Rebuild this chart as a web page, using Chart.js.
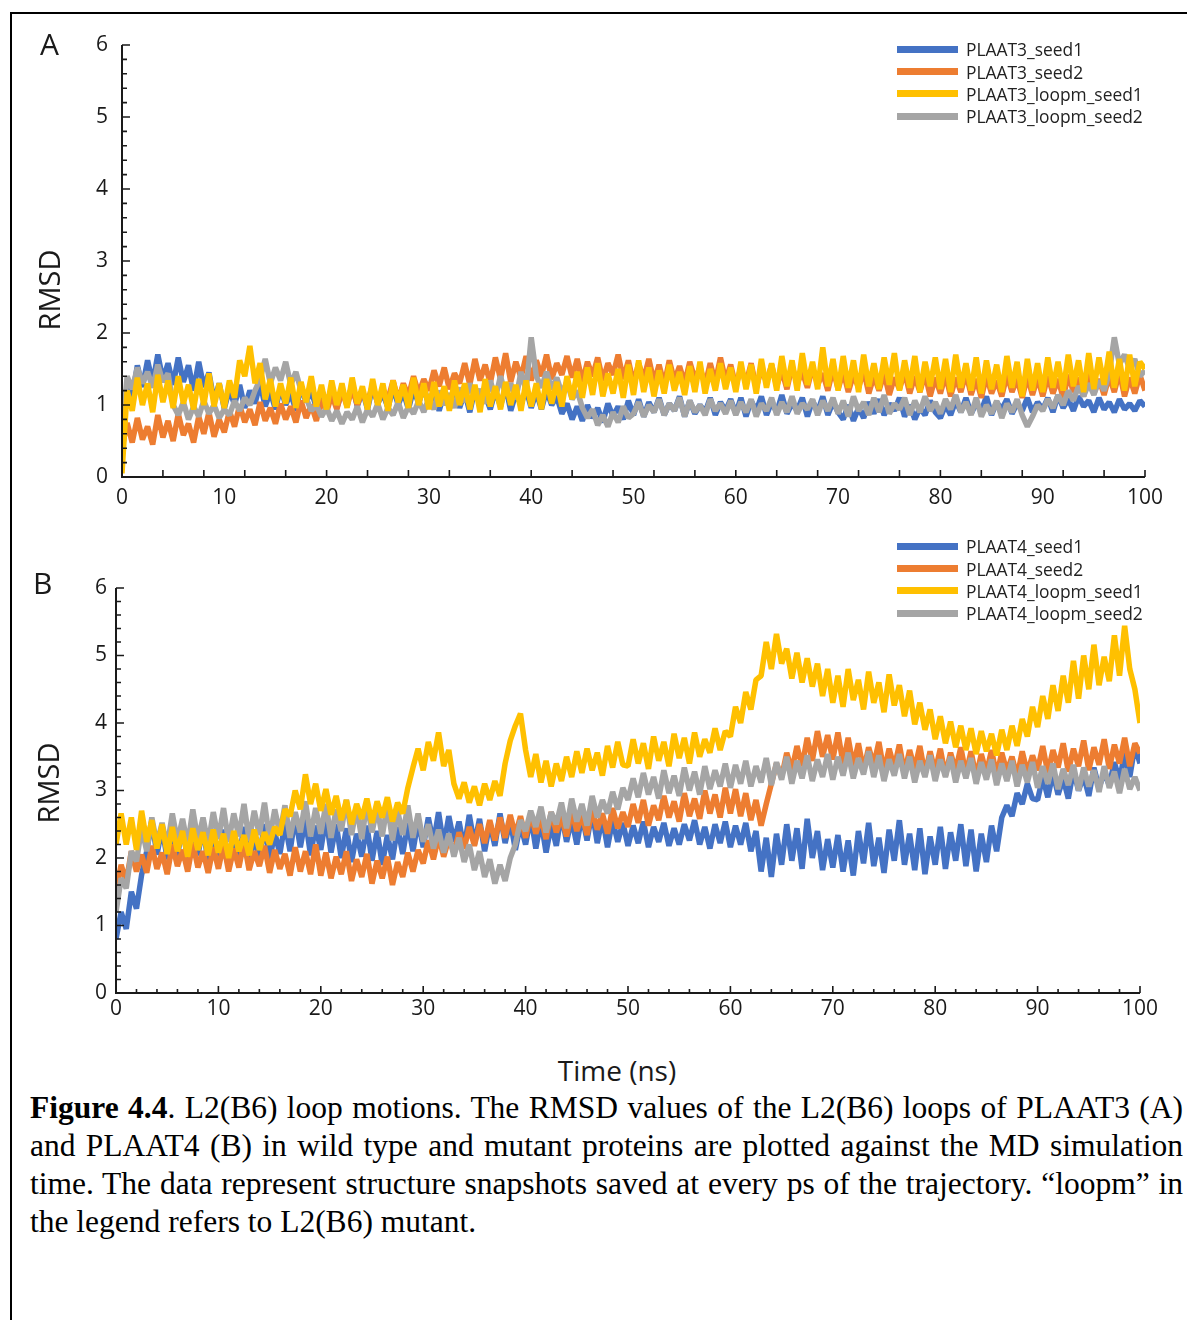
<!DOCTYPE html>
<html>
<head>
<meta charset="utf-8">
<script src="https://cdn.jsdelivr.net/npm/chart.js@4.4.1/dist/chart.umd.min.js"></script>
<style>
  body { margin: 0; background: #fff; width: 1187px; height: 1320px; position: relative; overflow: hidden; font-family: "Open Sans", "Noto Sans", sans-serif; color: #1a1a1a; }
  #frame { position: absolute; left: 10px; top: 12px; width: 1200px; height: 1320px; border-left: 2px solid #000; border-top: 2px solid #000; }
  .panel { position: absolute; left: 0; width: 1187px; }
  .tag { position: absolute; font-size: 30px; line-height: 1; }
  .ytitle { position: absolute; font-size: 29px; line-height: 1; transform: translate(-50%, -50%) rotate(-90deg); }
  .xtitle { position: absolute; font-size: 28px; line-height: 1; transform: translate(-50%, -50%); }
  .legend { position: absolute; left: 897px; font-size: 17.4px; color: #222; }
  .legend div { height: 22.4px; display: flex; align-items: center; }
  .legend span.sw { display: inline-block; width: 61px; height: 7px; margin-right: 8px; }
  #caption { position: absolute; left: 30px; top: 1089px; width: 1153px; font-family: "Liberation Serif", "Times New Roman", serif; font-size: 31.5px; line-height: 38px; text-align: justify; color: #000; }
</style>
</head>
<body>
<div id="frame"></div>

<div class="panel" style="top:0; height:520px;"><canvas id="chartA" width="1187" height="520"></canvas></div>
<div class="panel" style="top:540px; height:500px;"><canvas id="chartB" width="1187" height="500"></canvas></div>

<div class="tag" style="left:40px; top:29px;">A</div>
<div class="tag" style="left:33px; top:568px;">B</div>
<div class="ytitle" style="left:48px; top:290px;">RMSD</div>
<div class="ytitle" style="left:47px; top:783px;">RMSD</div>
<div class="xtitle" style="left:617px; top:1070px;">Time (ns)</div>

<div class="legend" id="legendA" style="top:38px;"></div>
<div class="legend" id="legendB" style="top:535px;"></div>

<div id="caption"><b>Figure 4.4</b>. L2(B6) loop motions. The RMSD values of the L2(B6) loops of PLAAT3 (A) and PLAAT4 (B) in wild type and mutant proteins are plotted against the MD simulation time. The data represent structure snapshots saved at every ps of the trajectory. “loopm” in the legend refers to L2(B6) mutant.</div>

<script>
// tiempo de simulación (ns), un punto cada 0.5 ns
const STEP_NS = 0.5;
const times = Array.from({ length: 201 }, (_, i) => i * STEP_NS);

const Y_TICKS = [0, 1, 2, 3, 4, 5, 6];
const X_TICKS = [0, 10, 20, 30, 40, 50, 60, 70, 80, 90, 100];

const seriesColors = ['#4472C4', '#ED7D31', '#FFC000', '#A5A5A5'];
const namesA = ['PLAAT3_seed1', 'PLAAT3_seed2', 'PLAAT3_loopm_seed1', 'PLAAT3_loopm_seed2'];
const namesB = ['PLAAT4_seed1', 'PLAAT4_seed2', 'PLAAT4_loopm_seed1', 'PLAAT4_loopm_seed2'];

// Panel A - PLAAT3
const plaat3Seed1 = [
  0.45,1.30,1.10,1.55,1.25,1.62,1.30,1.70,1.35,1.58,1.28,1.66,1.32,1.55,1.20,1.60,1.25,1.45,1.05,1.30,
  0.95,1.22,1.00,1.28,0.96,1.20,1.02,1.30,0.98,1.18,0.94,1.24,1.00,1.16,0.92,1.26,1.04,1.20,0.96,1.22,
  1.00,1.24,0.96,1.18,1.04,1.28,0.98,1.20,0.94,1.26,1.02,1.16,0.96,1.24,1.00,1.18,0.94,1.22,1.02,1.26,
  0.98,1.20,0.92,1.16,1.02,1.24,0.96,1.18,0.90,1.22,1.00,1.14,0.94,1.20,0.98,1.26,0.92,1.16,1.00,1.22,
  0.96,1.18,0.94,1.20,1.00,1.12,0.88,1.02,0.80,0.98,0.78,1.00,0.82,0.96,0.76,1.02,0.84,0.98,0.80,1.06,
  0.86,1.08,0.84,1.04,0.90,1.10,0.86,1.02,0.92,1.12,0.84,1.06,0.88,1.00,0.90,1.10,0.86,1.04,0.92,1.08,
  0.88,1.10,0.84,1.06,0.92,1.12,0.86,1.04,0.90,1.14,0.88,1.02,0.92,1.10,0.84,1.06,0.90,1.12,0.86,1.04,
  0.90,0.80,1.00,0.78,0.96,0.82,1.04,0.88,1.08,0.86,1.02,0.92,1.10,0.84,1.00,0.80,0.96,0.86,1.06,0.90,
  0.82,1.00,0.86,1.06,0.90,1.10,0.88,1.02,0.92,1.12,0.86,1.04,0.94,1.08,0.88,1.02,0.92,1.10,0.90,1.04,
  0.94,1.10,0.90,1.14,0.96,1.08,0.92,1.12,0.98,1.06,0.90,1.10,0.94,1.04,0.90,1.08,0.94,1.02,0.92,1.06,
  0.98
];
const plaat3Seed2 = [
  0.40,0.75,0.48,0.82,0.52,0.70,0.45,0.86,0.55,0.78,0.50,0.88,0.58,0.74,0.48,0.84,0.60,0.90,0.56,0.80,
  0.62,0.92,0.70,1.00,0.76,0.94,0.72,1.04,0.78,0.96,0.74,1.02,0.80,0.98,0.76,1.06,0.82,1.00,0.78,1.08,
  0.90,1.14,0.94,1.20,0.98,1.24,1.00,1.18,1.04,1.28,1.02,1.22,1.08,1.34,1.06,1.30,1.12,1.40,1.16,1.36,
  1.20,1.48,1.26,1.52,1.22,1.44,1.30,1.58,1.28,1.64,1.34,1.56,1.30,1.66,1.36,1.72,1.32,1.60,1.38,1.68,
  1.34,1.62,1.40,1.70,1.36,1.58,1.42,1.68,1.38,1.64,1.32,1.60,1.40,1.66,1.34,1.58,1.42,1.70,1.36,1.62,
  1.30,1.58,1.36,1.64,1.32,1.56,1.28,1.62,1.34,1.54,1.30,1.60,1.36,1.52,1.28,1.58,1.32,1.66,1.34,1.56,
  1.26,1.52,1.30,1.58,1.24,1.50,1.32,1.56,1.26,1.48,1.22,1.54,1.30,1.46,1.24,1.52,1.28,1.44,1.20,1.50,
  1.22,1.46,1.18,1.42,1.24,1.48,1.16,1.40,1.20,1.44,1.14,1.38,1.22,1.46,1.16,1.40,1.18,1.44,1.12,1.38,
  1.16,1.42,1.12,1.38,1.18,1.44,1.14,1.36,1.10,1.40,1.16,1.34,1.12,1.42,1.18,1.36,1.10,1.40,1.14,1.38,
  1.12,1.40,1.16,1.36,1.10,1.42,1.18,1.38,1.12,1.44,1.16,1.36,1.14,1.40,1.18,1.46,1.12,1.38,1.16,1.42,
  1.20
];
const plaat3LoopmSeed1 = [
  0.05,1.20,0.92,1.38,1.00,1.30,0.90,1.42,1.04,1.34,0.96,1.40,1.02,1.28,0.94,1.36,1.00,1.44,0.98,1.30,
  0.96,1.34,1.10,1.62,1.40,1.82,1.30,1.58,1.08,1.36,0.98,1.30,1.02,1.38,0.96,1.32,1.04,1.40,0.98,1.28,
  0.94,1.34,1.00,1.30,0.96,1.38,1.02,1.26,0.94,1.36,1.00,1.30,0.92,1.34,1.04,1.28,0.96,1.38,1.00,1.30,
  0.94,1.32,0.98,1.26,0.92,1.34,1.00,1.30,0.94,1.28,0.90,1.36,0.98,1.26,0.94,1.32,1.00,1.28,0.92,1.34,
  0.98,1.30,0.94,1.36,1.02,1.32,0.98,1.40,1.08,1.46,1.10,1.52,1.14,1.58,1.12,1.44,1.16,1.50,1.10,1.56,
  1.14,1.62,1.18,1.52,1.12,1.48,1.16,1.56,1.20,1.46,1.14,1.54,1.18,1.60,1.16,1.50,1.20,1.58,1.22,1.52,
  1.18,1.60,1.22,1.56,1.16,1.64,1.24,1.58,1.20,1.68,1.26,1.62,1.20,1.72,1.28,1.60,1.22,1.80,1.26,1.64,
  1.20,1.68,1.24,1.62,1.18,1.70,1.26,1.58,1.22,1.66,1.28,1.72,1.20,1.62,1.24,1.68,1.18,1.60,1.26,1.66,
  1.22,1.64,1.18,1.70,1.24,1.58,1.20,1.66,1.16,1.62,1.22,1.56,1.18,1.68,1.24,1.60,1.12,1.64,1.20,1.58,
  1.18,1.66,1.24,1.60,1.20,1.70,1.26,1.62,1.18,1.72,1.22,1.66,1.28,1.74,1.24,1.64,1.20,1.70,1.26,1.60,
  1.50
];
const plaat3LoopmSeed2 = [
  0.60,1.40,1.22,1.52,1.30,1.46,1.24,1.56,1.32,1.44,1.00,0.86,1.04,0.80,0.98,0.84,1.06,0.88,1.00,0.82,
  0.94,0.86,1.06,0.92,1.10,1.00,1.20,1.36,1.64,1.30,1.52,1.34,1.60,1.28,1.46,1.20,1.10,0.92,1.00,0.84,
  0.96,0.78,0.92,0.74,0.90,0.80,0.98,0.76,0.94,0.84,1.02,0.80,0.96,0.86,1.04,0.82,0.98,0.88,1.06,0.90,
  1.10,0.94,1.20,1.00,1.16,0.96,1.24,1.04,1.30,1.08,1.22,1.02,1.34,1.10,1.40,1.14,1.30,1.08,1.46,1.20,
  1.94,1.40,1.24,1.46,1.22,1.38,1.16,1.32,1.08,1.20,0.96,0.82,0.94,0.72,0.86,0.70,0.90,0.76,0.98,0.82,
  0.88,1.04,0.84,1.00,0.90,1.08,0.86,1.02,0.92,1.10,0.84,1.06,0.90,1.00,0.86,1.08,0.92,1.02,0.88,1.06,
  0.86,1.04,0.90,1.08,0.84,1.02,0.92,1.10,0.86,1.04,0.90,1.12,0.88,1.02,0.94,1.08,0.86,1.06,0.92,1.10,
  0.88,1.06,0.84,1.12,0.92,1.04,0.86,1.10,0.90,1.14,0.88,1.02,0.94,1.10,0.86,1.06,0.90,1.12,0.92,1.04,
  0.88,1.08,0.94,1.14,0.90,1.04,0.86,1.10,0.84,1.00,0.88,1.06,0.82,1.02,0.90,1.08,0.86,0.70,0.84,1.00,
  0.92,1.08,0.96,1.14,1.00,1.20,1.06,1.26,1.12,1.30,1.14,1.34,1.20,1.44,1.94,1.56,1.70,1.50,1.64,1.40,
  1.48
];

// Panel B - PLAAT4
const plaat4Seed1 = [
  0.80,1.20,0.95,1.50,1.25,1.75,2.10,2.55,2.05,2.45,1.98,2.40,2.02,2.50,1.95,2.38,2.04,2.46,1.92,2.36,
  1.96,2.42,1.90,2.34,2.00,2.46,1.94,2.30,2.02,2.50,1.96,2.38,2.06,2.52,2.10,2.62,2.16,2.58,2.04,2.48,
  2.12,2.60,2.08,2.50,2.00,2.44,1.94,2.36,2.02,2.48,1.96,2.40,1.90,2.34,1.98,2.46,2.06,2.52,2.10,2.56,
  2.16,2.60,2.22,2.68,2.18,2.62,2.24,2.54,2.14,2.64,2.20,2.58,2.10,2.52,2.18,2.66,2.22,2.56,2.12,2.50,
  2.20,2.62,2.14,2.56,2.08,2.50,2.18,2.66,2.24,2.58,2.20,2.64,2.26,2.70,2.22,2.60,2.16,2.56,2.24,2.52,
  2.18,2.48,2.22,2.54,2.16,2.46,2.24,2.52,2.18,2.44,2.20,2.50,2.26,2.56,2.20,2.46,2.14,2.50,2.22,2.54,
  2.16,2.48,2.20,2.52,2.10,2.40,1.80,2.30,1.72,2.36,1.90,2.50,1.96,2.44,1.84,2.58,2.00,2.40,1.82,2.28,
  1.86,2.34,1.80,2.26,1.74,2.40,1.92,2.52,1.88,2.30,1.78,2.42,1.96,2.56,1.90,2.36,1.82,2.44,1.76,2.32,
  1.90,2.46,1.84,2.38,1.96,2.50,1.88,2.42,1.80,2.36,1.94,2.48,2.10,2.60,2.78,2.62,2.96,2.80,3.10,2.88,
  2.86,3.20,2.90,3.26,2.94,3.18,2.88,3.30,3.00,3.22,2.92,3.34,3.04,3.26,3.08,3.42,3.14,3.56,3.20,3.66,
  3.40
];
const plaat4Seed2 = [
  1.50,1.90,1.65,2.10,1.80,2.05,1.78,2.18,1.84,2.08,1.76,2.20,1.88,2.12,1.80,2.22,1.86,2.10,1.78,2.16,
  1.84,2.20,1.80,2.14,1.86,2.24,1.82,2.10,1.88,2.18,1.78,2.12,1.84,2.06,1.74,2.16,1.80,2.10,1.76,2.20,
  1.74,2.08,1.70,2.02,1.76,2.10,1.66,1.98,1.72,2.06,1.62,1.96,1.70,2.02,1.60,1.94,1.72,2.08,1.80,2.12,
  1.92,2.26,1.98,2.32,2.02,2.28,2.08,2.38,2.14,2.46,2.18,2.50,2.22,2.56,2.26,2.60,2.30,2.64,2.34,2.62,
  2.30,2.66,2.36,2.60,2.28,2.68,2.38,2.62,2.32,2.70,2.40,2.64,2.34,2.72,2.42,2.66,2.36,2.74,2.44,2.68,
  2.46,2.80,2.52,2.86,2.48,2.78,2.56,2.92,2.60,2.84,2.54,2.96,2.62,2.88,2.58,3.00,2.66,2.94,2.60,3.04,
  2.66,3.02,2.62,2.96,2.56,2.86,2.48,2.80,3.10,3.40,3.20,3.56,3.30,3.66,3.36,3.78,3.44,3.88,3.50,3.82,
  3.46,3.86,3.40,3.78,3.36,3.70,3.30,3.64,3.38,3.72,3.28,3.62,3.34,3.68,3.26,3.60,3.32,3.66,3.24,3.58,
  3.28,3.62,3.22,3.56,3.30,3.64,3.24,3.58,3.20,3.54,3.26,3.60,3.22,3.56,3.28,3.50,3.20,3.58,3.26,3.52,
  3.30,3.66,3.26,3.60,3.34,3.70,3.28,3.62,3.36,3.74,3.30,3.64,3.38,3.76,3.32,3.68,3.40,3.78,3.36,3.70,
  3.55
];
const plaat4LoopmSeed1 = [
  2.20,2.66,2.20,2.60,2.12,2.70,2.24,2.56,2.14,2.50,2.06,2.46,2.10,2.40,2.02,2.44,2.12,2.38,2.04,2.42,
  2.08,2.36,2.00,2.40,2.10,2.34,2.04,2.42,2.12,2.38,2.20,2.46,2.34,2.72,2.62,3.00,2.72,3.24,2.80,3.10,
  2.70,3.02,2.64,2.92,2.56,2.86,2.50,2.80,2.58,2.88,2.52,2.84,2.60,2.90,2.54,2.82,2.66,3.04,3.34,3.62,
  3.30,3.72,3.44,3.86,3.36,3.60,3.10,2.88,3.12,2.82,3.06,2.78,3.10,2.86,3.14,2.92,3.40,3.74,3.96,4.14,
  3.60,3.20,3.54,3.12,3.44,3.06,3.40,3.14,3.50,3.20,3.58,3.26,3.62,3.30,3.56,3.22,3.66,3.34,3.72,3.38,
  3.36,3.76,3.40,3.70,3.32,3.80,3.44,3.72,3.36,3.84,3.48,3.78,3.40,3.86,3.50,3.76,3.56,3.92,3.60,3.88,
  3.80,4.24,4.00,4.46,4.20,4.64,4.70,5.20,4.80,5.32,4.88,5.10,4.66,5.04,4.60,4.96,4.54,4.88,4.40,4.80,
  4.30,4.70,4.24,4.80,4.34,4.64,4.20,4.76,4.30,4.60,4.16,4.72,4.26,4.56,4.10,4.48,3.98,4.30,3.90,4.20,
  3.76,4.10,3.70,4.02,3.64,3.96,3.60,3.92,3.54,3.88,3.58,3.84,3.52,3.90,3.60,3.96,3.66,4.06,3.80,4.24,
  3.94,4.40,4.06,4.56,4.18,4.70,4.30,4.92,4.36,5.00,4.50,5.16,4.56,4.98,4.62,5.30,4.70,5.44,4.80,4.50,
  4.00
];
const plaat4LoopmSeed2 = [
  1.20,1.70,1.55,2.10,1.95,2.45,2.10,2.60,2.20,2.52,2.16,2.66,2.24,2.58,2.18,2.72,2.26,2.60,2.20,2.68,
  2.28,2.74,2.24,2.66,2.32,2.80,2.26,2.70,2.34,2.82,2.28,2.72,2.36,2.78,2.30,2.68,2.38,2.84,2.32,2.74,
  2.36,2.80,2.30,2.72,2.40,2.86,2.34,2.76,2.28,2.82,2.38,2.74,2.32,2.80,2.26,2.70,2.34,2.78,2.30,2.66,
  2.24,2.50,2.14,2.42,2.08,2.36,2.02,2.30,1.94,2.20,1.82,2.10,1.72,1.98,1.62,1.90,1.66,2.00,2.20,2.56,
  2.40,2.70,2.46,2.76,2.38,2.68,2.50,2.82,2.44,2.88,2.54,2.80,2.48,2.92,2.60,2.86,2.66,2.98,2.72,3.04,
  2.86,3.18,2.90,3.26,2.94,3.20,2.88,3.30,2.96,3.22,2.92,3.34,3.00,3.28,2.94,3.36,3.02,3.30,3.06,3.40,
  3.04,3.38,3.10,3.44,3.06,3.36,3.12,3.48,3.08,3.42,3.16,3.50,3.10,3.44,3.18,3.52,3.14,3.46,3.20,3.54,
  3.16,3.50,3.22,3.56,3.18,3.48,3.24,3.58,3.20,3.52,3.14,3.46,3.22,3.54,3.18,3.50,3.12,3.44,3.20,3.52,
  3.14,3.46,3.20,3.50,3.12,3.44,3.18,3.48,3.10,3.42,3.16,3.46,3.08,3.40,3.14,3.44,3.06,3.38,3.12,3.42,
  3.04,3.36,3.10,3.40,3.02,3.32,3.08,3.38,3.00,3.34,3.06,3.30,2.98,3.36,3.04,3.28,2.96,3.32,3.02,3.20,
  3.00
];

// Ejes estilo MATLAB: líneas izquierda/inferior con marcas hacia dentro
const matlabAxes = {
    id: 'matlabAxes',
    afterDatasetsDraw(chart, args, opts) {
        const { ctx, chartArea: a, scales: { x, y } } = chart;
        ctx.save();
        ctx.strokeStyle = '#1a1a1a';
        ctx.lineWidth = 2;
        ctx.beginPath();
        ctx.moveTo(a.left, a.top);
        ctx.lineTo(a.left, a.bottom);
        ctx.lineTo(a.right, a.bottom);
        ctx.stroke();

        ctx.lineWidth = 1.6;
        ctx.beginPath();
        for (let k = 0; k <= 30; k++) {
            const py = y.getPixelForValue(k * 0.2);
            const len = k % 5 === 0 ? 8 : 5;
            ctx.moveTo(a.left, py);
            ctx.lineTo(a.left + len, py);
        }
        for (let v = 0; v <= 100; v += opts.xMinor) {
            const px = x.getPixelForValue(v);
            const len = (opts.xMajor && v % opts.xMajor === 0) ? opts.majorLen : opts.minorLen;
            ctx.moveTo(px, a.bottom);
            ctx.lineTo(px, a.bottom - len);
        }
        ctx.stroke();
        ctx.restore();
    }
};

// amarillo encima, azul debajo
const drawOrder = [3, 2, 0, 1];

function makeChart(canvasId, names, series, cfg) {
    const ctx = document.getElementById(canvasId).getContext('2d');
    return new Chart(ctx, {
        type: 'line',
        data: {
            labels: times,
            datasets: series.map((s, i) => ({
                label: names[i],
                data: s,
                borderColor: seriesColors[i],
                backgroundColor: seriesColors[i],
                borderWidth: 5.5,
                borderJoinStyle: 'bevel',
                pointRadius: 0,
                tension: 0,
                order: drawOrder[i]
            }))
        },
        options: {
            responsive: false,
            animation: false,
            events: [],
            layout: { padding: cfg.padding },
            plugins: {
                legend: { display: false },
                tooltip: { enabled: false },
                matlabAxes: cfg.axes
            },
            scales: {
                x: {
                    type: 'linear',
                    min: 0,
                    max: 100,
                    afterFit: s => { s.height = 40; },
                    afterBuildTicks: s => { s.ticks = X_TICKS.map(v => ({ value: v })); },
                    grid: { display: false, drawTicks: false },
                    border: { display: false },
                    ticks: {
                        autoSkip: false,
                        maxRotation: 0,
                        padding: cfg.xPad,
                        color: '#1a1a1a',
                        font: { family: 'Open Sans', size: 21 }
                    }
                },
                y: {
                    min: 0,
                    max: 6,
                    afterFit: s => { s.width = 60; },
                    afterBuildTicks: s => { s.ticks = Y_TICKS.map(v => ({ value: v })); },
                    grid: { display: false, drawTicks: false },
                    border: { display: false },
                    ticks: {
                        padding: cfg.yPad,
                        color: '#1a1a1a',
                        font: { family: 'Open Sans', size: 21 }
                    }
                }
            }
        },
        plugins: [matlabAxes]
    });
}

function buildLegend(id, names) {
    const box = document.getElementById(id);
    names.forEach((n, i) => {
        const row = document.createElement('div');
        row.innerHTML = '<span class="sw" style="background:' + seriesColors[i] + '"></span>' + n;
        box.appendChild(row);
    });
}

makeChart('chartA', namesA, [plaat3Seed1, plaat3Seed2, plaat3LoopmSeed1, plaat3LoopmSeed2], {
    padding: { top: 45, left: 62, right: 42, bottom: 3 },
    xPad: 8,
    yPad: 14,
    axes: { xMinor: 4, xMajor: 0, minorLen: 7, majorLen: 7 }
});
makeChart('chartB', namesB, [plaat4Seed1, plaat4Seed2, plaat4LoopmSeed1, plaat4LoopmSeed2], {
    padding: { top: 48, left: 56, right: 47, bottom: 7 },
    xPad: 3,
    yPad: 9,
    axes: { xMinor: 2, xMajor: 10, minorLen: 4, majorLen: 7 }
});

buildLegend('legendA', namesA);
buildLegend('legendB', namesB);
</script>
</body>
</html>
